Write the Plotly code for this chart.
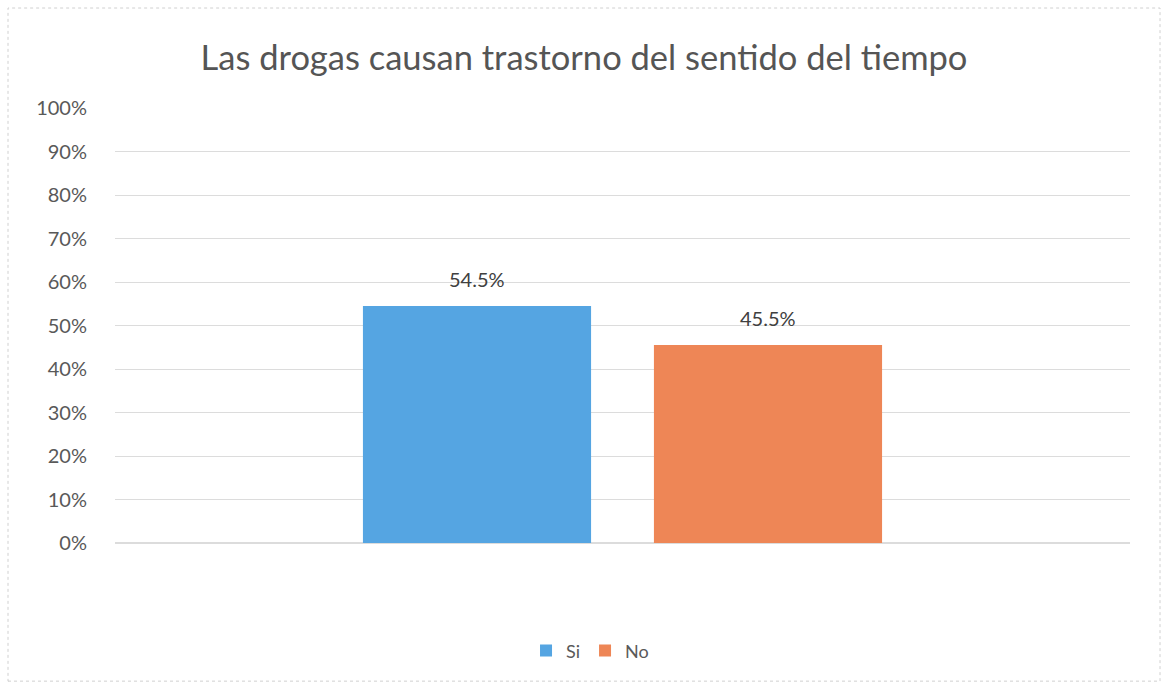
import plotly.graph_objects as go

# Survey answers and their shares
categories = ["Si", "No"]
values = [0.545, 0.455]
colors = ["#55A5E2", "#EE8656"]
tick_values = [0, 0.1, 0.2, 0.3, 0.4, 0.5, 0.6, 0.7, 0.8, 0.9, 1.0]
tick_labels = ["0%", "10%", "20%", "30%", "40%", "50%", "60%", "70%", "80%", "90%", "100%"]

FONT = "Lato, 'Open Sans', sans-serif"

fig = go.Figure()
for name, val, col in zip(categories, values, colors):
    fig.add_trace(go.Bar(
        name=name,
        x=[name],
        y=[val],
        marker=dict(color=col, line=dict(width=0)),
        hovertemplate="%{x}: %{y:.1%}<extra></extra>",
    ))
    # value label above each bar
    fig.add_annotation(
        x=name, y=val, xref="x", yref="y",
        text=f"{val * 100:.1f}%",
        showarrow=False,
        yanchor="middle", yshift=27,
        font=dict(size=20, color="#404040", family=FONT),
    )

fig.update_layout(
    width=1162,
    height=682,
    margin=dict(l=115, r=32, t=108, b=139),
    paper_bgcolor="white",
    plot_bgcolor="white",
    barmode="overlay",
    bargap=0.216,
    title=dict(
        text="Las drogas causan trastorno del sentido del tiempo",
        x=584 / 1162, xref="container", xanchor="center",
        y=1 - 58 / 682, yref="container", yanchor="middle",
        font=dict(size=34.5, color="#555555", family=FONT),
    ),
    font=dict(family=FONT, color="#595959"),
    yaxis=dict(
        range=[0, 1],
        tickvals=tick_values,
        ticktext=tick_labels,
        showgrid=True,
        gridcolor="#DCDCDC",
        gridwidth=1,
        zeroline=True,
        zerolinecolor="#DCDCDC",
        showline=False,
        ticks="",
        ticklabelstandoff=27,
        tickfont=dict(size=20, color="#595959", family=FONT),
    ),
    xaxis=dict(
        type="category",
        range=[-1.244, 2.244],
        showticklabels=False, showgrid=False, showline=False, ticks="",
    ),
    legend=dict(
        orientation="h",
        x=0.468, xanchor="center",
        y=-0.248, yanchor="middle",
        font=dict(size=18, color="#595959", family=FONT),
        itemwidth=30,
        traceorder="normal",
    ),
    shapes=[dict(
        type="rect", xref="paper", yref="paper",
        x0=-107 / 1015, x1=1 + 30 / 1015,
        y0=-139 / 435 + 0.002, y1=1 + 100 / 435,
        line=dict(color="#D0D0D0", width=1, dash="dot"),
        fillcolor="rgba(0,0,0,0)",
        layer="below",
    )],
)

fig.write_html("out.html")
